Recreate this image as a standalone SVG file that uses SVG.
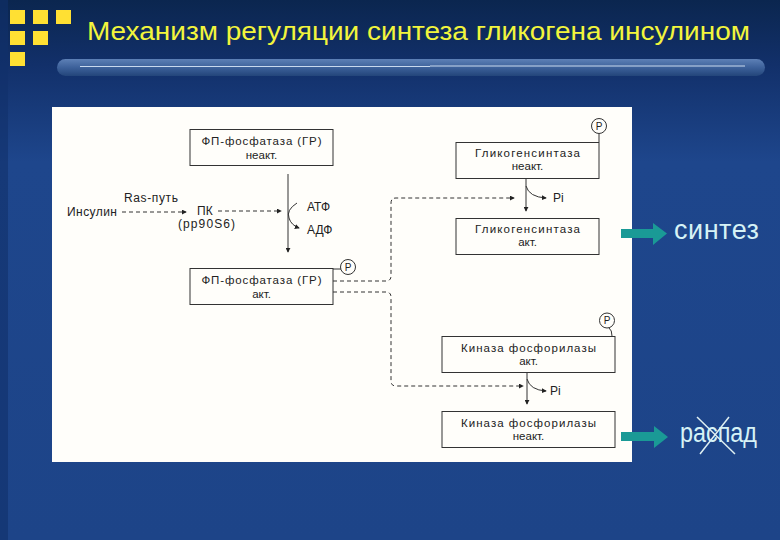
<svg xmlns="http://www.w3.org/2000/svg" width="780" height="540" viewBox="0 0 780 540">
<defs>
<linearGradient id="bg" x1="0" y1="0" x2="0" y2="1">
<stop offset="0" stop-color="#0b264f"/>
<stop offset="0.12" stop-color="#12306a"/>
<stop offset="0.3" stop-color="#1e468c"/>
<stop offset="1" stop-color="#1d4488"/>
</linearGradient>
<linearGradient id="bar" x1="0" y1="0" x2="0" y2="1">
<stop offset="0" stop-color="#5d80b6"/>
<stop offset="0.5" stop-color="#3d619a"/>
<stop offset="1" stop-color="#23457a"/>
</linearGradient>
<marker id="ah" viewBox="0 0 6 6" refX="5" refY="3" markerWidth="5" markerHeight="5" orient="auto" markerUnits="userSpaceOnUse">
<path d="M0,0 L6,3 L0,6 Z" fill="#222"/>
</marker>
<style>
.t{font-family:"Liberation Sans",Arial,sans-serif;font-size:11.5px;fill:#222;text-anchor:middle}
.tl{font-family:"Liberation Sans",Arial,sans-serif;font-size:12px;fill:#222}
.box{fill:#fffefa;stroke:#333;stroke-width:1}
.ln{fill:none;stroke:#333;stroke-width:1}
.dash{fill:none;stroke:#333;stroke-width:1;stroke-dasharray:4 3}
.pc{fill:#fffefa;stroke:#333;stroke-width:1}
.pt{font-family:"Liberation Sans",Arial,sans-serif;font-size:10px;fill:#222;text-anchor:middle}
.sq{fill:#ffe033}
.big{font-family:"Liberation Sans",Arial,sans-serif;font-size:27px;fill:#d6f2f6}
.arr{fill:#1a9a96}
</style>
</defs>
<rect x="0" y="0" width="780" height="540" fill="url(#bg)"/>
<rect x="0" y="0" width="8" height="540" fill="#10306a" opacity="0.6"/>
<g id="logo">
<rect class="sq" x="10" y="10" width="15" height="14"/>
<rect class="sq" x="33" y="10" width="15" height="14"/>
<rect class="sq" x="56" y="10" width="15" height="14"/>
<rect class="sq" x="10" y="31" width="15" height="14"/>
<rect class="sq" x="33" y="31" width="15" height="14"/>
<rect class="sq" x="10" y="52" width="15" height="14"/>
</g>
<text id="title" x="87" y="40" font-family="'Liberation Sans',Arial,sans-serif" font-size="26" fill="#f2f53c" textLength="663" lengthAdjust="spacingAndGlyphs">Механизм регуляции синтеза гликогена инсулином</text>
<g id="titlebar">
<rect x="57" y="59" width="708" height="17" rx="8.5" fill="url(#bar)"/>
<line x1="80" y1="66.5" x2="430" y2="66.5" stroke="#c9d9ee" stroke-width="1.2"/>
<line x1="430" y1="66" x2="745" y2="66" stroke="#c9d9ee" stroke-width="1.2"/>
</g>
<rect id="panel" x="52" y="107" width="580" height="355" fill="#fffefa"/>

<g id="connectors">
<path class="dash" d="M122,212 H186" marker-end="url(#ah)"/>
<path class="dash" d="M218,211 H281" marker-end="url(#ah)"/>
<path class="ln" d="M288,174 V252" marker-end="url(#ah)"/>
<path class="ln" d="M297,203 Q286,210 289,218 Q291,225 299,228" marker-end="url(#ah)"/>
<path class="ln" d="M333,269 H341"/>
<path class="dash" d="M333,281 H386 Q391,281 391,276 V203 Q391,198 396,198 H514" marker-end="url(#ah)"/>
<path class="dash" d="M333,292 H386 Q391,292 391,297 V381 Q391,386 396,386 H523" marker-end="url(#ah)"/>
<path class="ln" d="M526,178 V211" marker-end="url(#ah)"/>
<path class="ln" d="M526,186 Q529,197 546,198" marker-end="url(#ah)"/>
<path class="ln" d="M599,133.5 V142"/>
<path class="ln" d="M527,373 V404" marker-end="url(#ah)"/>
<path class="ln" d="M527,379 Q530,390 546,391" marker-end="url(#ah)"/>
<path class="ln" d="M609,328 Q612,330 612,336"/>
<line x1="697" y1="417" x2="735" y2="454" stroke="#dff0f2" stroke-width="1.5"/>
<line x1="700" y1="454" x2="729" y2="417" stroke="#dff0f2" stroke-width="1.5"/>
</g>

<g id="insulin">
<text class="tl" x="67" y="216" textLength="50">Инсулин</text>
<text class="tl" x="124" y="202" textLength="54">Ras-путь</text>
</g>
<g id="pk">
<text class="tl" x="197" y="215">ПК</text>
<text class="tl" x="178" y="228" textLength="57">(pp90S6)</text>
</g>
<g id="atp">
<text class="tl" x="307" y="211">АТФ</text>
<text class="tl" x="307" y="234">АДФ</text>
</g>

<g id="fp-inact">
<rect class="box" x="190" y="129.5" width="143" height="36"/>
<text class="t" x="261.5" y="145" textLength="120">ФП-фосфатаза (ГР)</text>
<text class="t" x="261.5" y="159">неакт.</text>
</g>
<g id="fp-act">
<rect class="box" x="190" y="268.5" width="143" height="36"/>
<text class="t" x="261.5" y="284" textLength="120">ФП-фосфатаза (ГР)</text>
<text class="t" x="261.5" y="298">акт.</text>
<circle class="pc" cx="348" cy="267" r="7.5"/>
<text class="pt" x="348" y="270.5">P</text>
</g>
<g id="gs-inact">
<rect class="box" x="456" y="142.5" width="143" height="36"/>
<text class="t" x="527.5" y="157" textLength="105">Гликогенсинтаза</text>
<text class="t" x="527.5" y="170">неакт.</text>
<circle class="pc" cx="599" cy="126" r="7.5"/>
<text class="pt" x="599" y="129.5">P</text>
</g>
<g id="gs-act">
<rect class="box" x="456" y="218.5" width="143" height="36"/>
<text class="t" x="527.5" y="233" textLength="105">Гликогенсинтаза</text>
<text class="t" x="527.5" y="246">акт.</text>
</g>
<g id="pi1"><text class="tl" x="553" y="202">Pi</text></g>
<g id="kf-act">
<rect class="box" x="442" y="336.5" width="173" height="36"/>
<text class="t" x="528.5" y="352" textLength="135">Киназа фосфорилазы</text>
<text class="t" x="528.5" y="365">акт.</text>
<circle class="pc" cx="607" cy="320.5" r="7.5"/>
<text class="pt" x="607" y="324">P</text>
</g>
<g id="pi2"><text class="tl" x="550" y="395">Pi</text></g>
<g id="kf-inact">
<rect class="box" x="442" y="411.5" width="173" height="36"/>
<text class="t" x="528.5" y="427" textLength="135">Киназа фосфорилазы</text>
<text class="t" x="528.5" y="440">неакт.</text>
</g>

<g id="synthesis">
<path class="arr" d="M621,229 H653 V223 L667,233.5 L653,245 V238 H621 Z"/>
<text class="big" x="674" y="239" textLength="85">синтез</text>
</g>
<g id="breakdown">
<path class="arr" d="M621,432 H654 V426 L668,437 L654,448 V441 H621 Z"/>
<text class="big" x="680" y="442" textLength="77" lengthAdjust="spacingAndGlyphs">распад</text>
</g>
</svg>
